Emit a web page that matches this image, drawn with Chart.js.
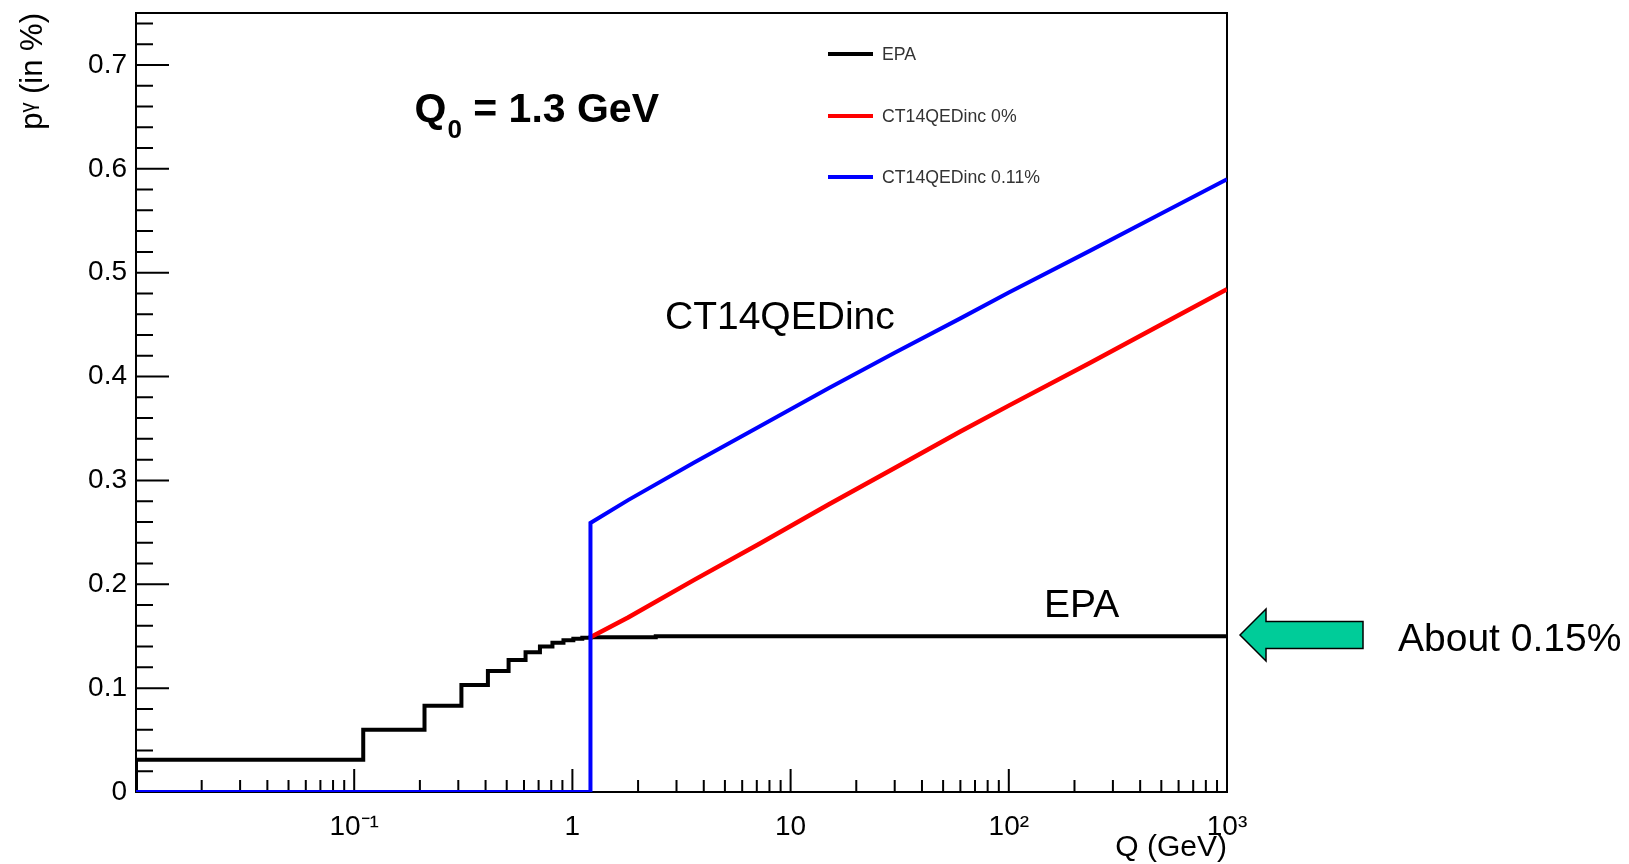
<!DOCTYPE html>
<html><head><meta charset="utf-8">
<script src="https://cdn.jsdelivr.net/npm/chart.js@4"></script>
<style>html,body{margin:0;padding:0;background:#fff;}canvas{display:block;}</style>
</head><body>
<canvas id="c" width="1629" height="864"></canvas>
<script>
// ---- data ----
const seriesNames = ['EPA', 'CT14QEDinc 0%', 'CT14QEDinc 0.11%'];
// EPA histogram: bin lower edges (GeV) and contents (%)
const epaQ = [0.01, 0.01, 0.11, 0.21, 0.31, 0.41, 0.51, 0.61, 0.71, 0.81, 0.91, 1.01, 1.11, 1.21, 2.41, 1000];
const epaP = [0, 0.031, 0.060, 0.083, 0.103, 0.1165, 0.127, 0.1345, 0.140, 0.1437, 0.146, 0.1476, 0.1485, 0.149, 0.150, 0.150];
// CT14QEDinc 0%
const ct0Q = [1.21, 1.8, 3.6, 7.2, 15, 30, 60, 100, 235, 500, 1000];
const ct0P = [0.149, 0.168, 0.204, 0.239, 0.277, 0.312, 0.347, 0.372, 0.413, 0.450, 0.484];
// CT14QEDinc 0.11%
const ct11Q = [0.01, 1.21, 1.21, 1.8, 3.6, 7.2, 15, 30, 60, 100, 235, 500, 1000];
const ct11P = [0, 0, 0.259, 0.281, 0.317, 0.352, 0.389, 0.423, 0.456, 0.481, 0.521, 0.557, 0.590];
// axis ticks
const xTickValues = [0.1, 1, 10, 100, 1000];
const xTickLabels = ['10\u207B\u00B9', '1', '10', '10\u00B2', '10\u00B3'];
const yTickValues = [0, 0.1, 0.2, 0.3, 0.4, 0.5, 0.6, 0.7];
const yTickLabels = ['0', '0.1', '0.2', '0.3', '0.4', '0.5', '0.6', '0.7'];

const FONT = "'Liberation Sans', Arial, sans-serif";
const pts = (xs, ys) => xs.map((q, i) => ({x: q, y: ys[i]}));

const decor = {
  id: 'decor',
  beforeDatasetsDraw(chart) {
    const {ctx, chartArea: a, scales: {x, y}} = chart;
    ctx.save();
    ctx.strokeStyle = '#000';
    ctx.lineWidth = 2;
    ctx.strokeRect(a.left, a.top, a.right - a.left, a.bottom - a.top);
    ctx.beginPath();
    for (let k = 0; k <= 37; k++) {
      const py = y.getPixelForValue(k * 0.02);
      const len = (k % 5 === 0) ? 33 : 17;
      ctx.moveTo(a.left, py); ctx.lineTo(a.left + len, py);
    }
    for (let e = -2; e <= 3; e++) {
      for (let m = 1; m <= 9; m++) {
        const v = m * Math.pow(10, e);
        if (v < 0.0101 || v > 1000.1) continue;
        const px = x.getPixelForValue(v);
        const len = (m === 1) ? 23 : 12;
        ctx.moveTo(px, a.bottom); ctx.lineTo(px, a.bottom - len);
      }
    }
    ctx.stroke();
    ctx.restore();
  },
  afterDraw(chart) {
    const {ctx} = chart;
    ctx.save();
    // legend
    const ly = [54, 116, 177];
    ctx.font = '17.7px ' + FONT;
    ctx.textBaseline = 'middle';
    ctx.textAlign = 'left';
    seriesNames.forEach((name, i) => {
      ctx.strokeStyle = chart.data.datasets[i].borderColor;
      ctx.lineWidth = 4;
      ctx.beginPath(); ctx.moveTo(828, ly[i]); ctx.lineTo(873, ly[i]); ctx.stroke();
      ctx.fillStyle = '#333';
      ctx.fillText(name, 882, ly[i] + 1);
    });
    // Q0 label
    ctx.fillStyle = '#000';
    ctx.textBaseline = 'alphabetic';
    let xq = 414.5;
    ctx.font = 'bold 41px ' + FONT;
    ctx.fillText('Q', xq, 121.5);
    xq += ctx.measureText('Q').width + 1;
    ctx.font = 'bold 26px ' + FONT;
    ctx.fillText('0', xq, 138);
    xq += ctx.measureText('0').width;
    ctx.font = 'bold 41px ' + FONT;
    ctx.fillText(' = 1.3 GeV', xq, 121.5);
    // annotations
    ctx.font = '39px ' + FONT;
    ctx.fillText('CT14QEDinc', 665, 329);
    ctx.fillText('EPA', 1044, 617);
    ctx.fillText('About 0.15%', 1398, 651);
    // arrow
    ctx.beginPath();
    ctx.moveTo(1240, 635);
    ctx.lineTo(1266, 609);
    ctx.lineTo(1266, 621.5);
    ctx.lineTo(1363, 621.5);
    ctx.lineTo(1363, 648.5);
    ctx.lineTo(1266, 648.5);
    ctx.lineTo(1266, 661);
    ctx.closePath();
    ctx.fillStyle = '#00cc99';
    ctx.fill();
    ctx.strokeStyle = '#000';
    ctx.lineWidth = 1.5;
    ctx.stroke();
    ctx.restore();
  }
};

new Chart(document.getElementById('c'), {
  type: 'line',
  data: {
    datasets: [
      {label: seriesNames[0], data: pts(epaQ, epaP), borderColor: '#000000', borderWidth: 4, stepped: 'before', pointRadius: 0, fill: false, order: 2, borderJoinStyle: 'miter', borderCapStyle: 'butt'},
      {label: seriesNames[1], data: pts(ct0Q, ct0P), borderColor: '#ff0000', borderWidth: 4.5, pointRadius: 0, fill: false, tension: 0, order: 1, borderJoinStyle: 'round'},
      {label: seriesNames[2], data: pts(ct11Q, ct11P), borderColor: '#0000ff', borderWidth: 4, pointRadius: 0, fill: false, tension: 0, order: 0, borderJoinStyle: 'miter'}
    ]
  },
  options: {
    responsive: false,
    devicePixelRatio: 1,
    animation: false,
    events: [],
    layout: {padding: {left: 0, right: 402, top: 13, bottom: 0}},
    plugins: {legend: {display: false}, tooltip: {enabled: false}},
    scales: {
      x: {
        type: 'logarithmic', min: 0.01, max: 1000, position: 'bottom',
        grid: {display: false, drawTicks: false}, border: {display: false},
        afterBuildTicks: s => { s.ticks = xTickValues.map(v => ({value: v})); },
        ticks: {autoSkip: false, maxRotation: 0, minRotation: 0, padding: 18, color: '#000',
                font: {size: 28, family: FONT}, callback: (v, i) => xTickLabels[i]},
        title: {display: true, text: 'Q (GeV)', align: 'end', color: '#000',
                font: {size: 30, family: FONT, lineHeight: 1}, padding: {top: 0, bottom: 1}},
        afterFit: s => { s.height = 72; s.paddingLeft = 0; s.paddingRight = 0; }
      },
      y: {
        type: 'linear', min: 0, max: 0.75,
        grid: {display: false, drawTicks: false}, border: {display: false},
        afterBuildTicks: s => { s.ticks = yTickValues.map(v => ({value: v})); },
        ticks: {padding: 9, color: '#000', font: {size: 28, family: FONT}, callback: (v, i) => yTickLabels[i]},
        title: {display: true, text: 'p\u1D5E (in %)', align: 'end', color: '#000',
                font: {size: 31, family: FONT, lineHeight: 1}, padding: {top: 18, bottom: 0}},
        afterFit: s => { s.width = 136; s.paddingTop = 0; s.paddingBottom = 0; }
      }
    }
  },
  plugins: [decor]
});
</script>
</body></html>
